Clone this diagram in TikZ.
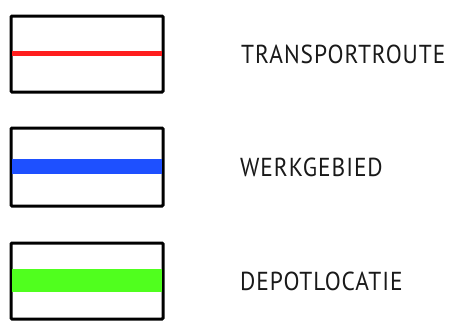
\documentclass[tikz,border=0pt]{standalone}
\usepackage{graphicx}
\usepackage{fontspec}
\setmainfont{PT Sans}[LetterSpace=4]
\newcommand{\legfit}[1]{\scalebox{0.9}[1]{#1}}
\begin{document}
\begin{tikzpicture}[x=1pt,y=-1pt,
  legbox/.style={draw=black,line width=3pt,rounded corners=1pt},
  legtext/.style={anchor=base west,inner sep=0pt,font=\fontsize{26}{30}\selectfont,text=black!90}]
\useasboundingbox (0,0) rectangle (462,327);
% box 1
\draw[legbox] (11,16) rectangle (163,92);
\coordinate (r1) at (12,53);
\coordinate (r2) at (162,53);
\draw[line width=5pt,color={rgb,255:red,255;green,30;blue,30}] (r1) -- (r2);
% box 2
\draw[legbox] (11,128) rectangle (163,206);
\fill[color={rgb,255:red,30;green,80;blue,255}] (12,159) rectangle (162,174);
% box 3
\draw[legbox] (11,243) rectangle (163,319);
\fill[color={rgb,255:red,80;green,255;blue,30}] (12,269) rectangle (162,292);
% labels
\node[legtext] (t1) at (241,63) {\legfit{TRANSPORTROUTE}};
\node[legtext] (t2) at (240,176) {\legfit{WERKGEBIED}};
\node[legtext] (t3) at (240,290) {\legfit{DEPOTLOCATIE}};
\end{tikzpicture}
\end{document}
